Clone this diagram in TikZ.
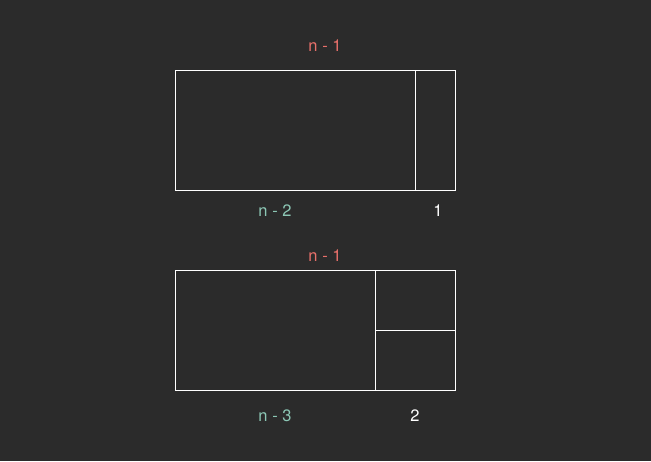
\documentclass[tikz,border=0pt]{standalone}
\usepackage{fontspec}
\setmainfont{TeX Gyre Heros}
\definecolor{bgdark}{HTML}{2B2B2B}
\definecolor{lenred}{HTML}{E8706A}
\definecolor{lenteal}{HTML}{8CC7B5}

\begin{document}
\begin{tikzpicture}[
		% pixel-like units, y pointing down
		x=1pt, y=-1pt,
		line width=1pt,
		lbl/.style={font=\fontsize{16.5}{19}\selectfont},
		tilebox/.style={draw=white}
		]
		
		% ==========================================
		% 0. Background
		% ==========================================
		\fill[bgdark] (0,0) rectangle (651,461);
		\useasboundingbox (0,0) rectangle (651,461);
		
		% ==========================================
		% 1. Upper strip: (n-1) = (n-2) + 1
		% ==========================================
		\coordinate (topA) at (175,70);
		\coordinate (topB) at (455,190);
		\coordinate (topCutT) at (415,70);
		\coordinate (topCutB) at (415,190);
		\draw[tilebox] (topA) rectangle (topB);
		\draw[tilebox] (topCutT) -- (topCutB);
		
		\node[lbl, text=lenred] (topLen) at (325,46) {n - 1};
		\node[lbl, text=lenteal] (topBig) at (275,211) {n - 2};
		\node[lbl, text=white] (topOne) at (438,211) {1};
		
		% ==========================================
		% 2. Lower strip: (n-1) = (n-3) + 2
		% ==========================================
		\coordinate (botA) at (175,270);
		\coordinate (botB) at (455,390);
		\coordinate (botCutT) at (375,270);
		\coordinate (botCutB) at (375,390);
		\coordinate (botMidL) at (375,330);
		\coordinate (botMidR) at (455,330);
		\draw[tilebox] (botA) rectangle (botB);
		\draw[tilebox] (botCutT) -- (botCutB);
		\draw[tilebox] (botMidL) -- (botMidR);
		
		\node[lbl, text=lenred] (botLen) at (325,256) {n - 1};
		\node[lbl, text=lenteal] (botBig) at (275,416) {n - 3};
		\node[lbl, text=white] (botTwo) at (415,416) {2};
		
	\end{tikzpicture}
\end{document}
